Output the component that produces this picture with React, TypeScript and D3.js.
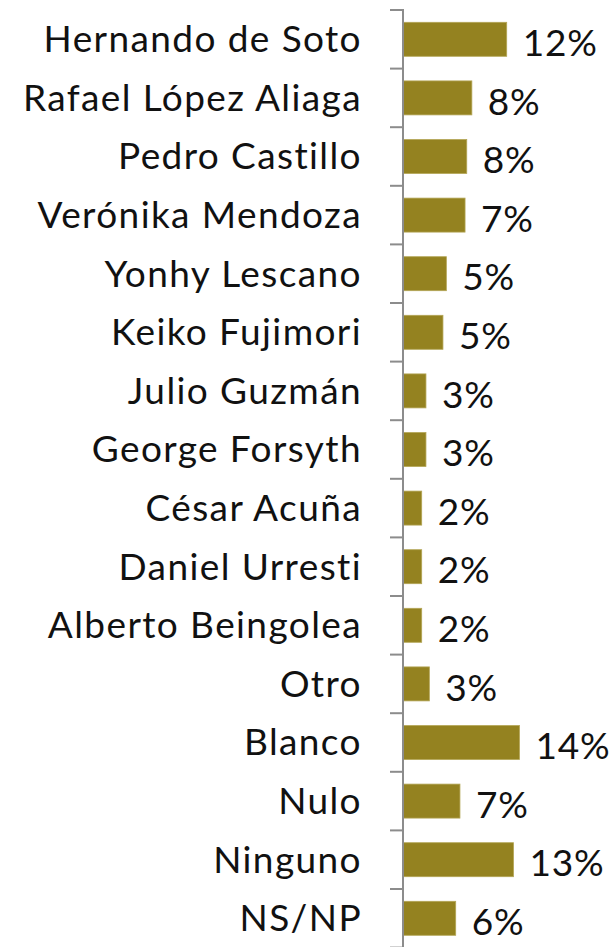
import React, { useEffect, useRef } from "react";
import * as d3 from "d3";

// Candidates and answers, top to bottom.
const categories = [
  "Hernando de Soto",
  "Rafael López Aliaga",
  "Pedro Castillo",
  "Verónika Mendoza",
  "Yonhy Lescano",
  "Keiko Fujimori",
  "Julio Guzmán",
  "George Forsyth",
  "César Acuña",
  "Daniel Urresti",
  "Alberto Beingolea",
  "Otro",
  "Blanco",
  "Nulo",
  "Ninguno",
  "NS/NP",
];

// Bar lengths (percent).
const values = [12.2, 8.1, 7.5, 7.3, 5.1, 4.7, 2.7, 2.7, 2.2, 2.2, 2.2, 3.1, 13.7, 6.7, 13.0, 6.2];

// Printed labels.
const valueLabels = ["12%", "8%", "8%", "7%", "5%", "5%", "3%", "3%", "2%", "2%", "2%", "3%", "14%", "7%", "13%", "6%"];

const App = () => {
  const ref = useRef<SVGSVGElement>(null);

  useEffect(() => {
    const width = 616;
    const height = 947;
    const axisX = 403;

    const svg = d3.select(ref.current).attr("width", width).attr("height", height);
    svg.selectAll("*").remove();

    const y = d3.scaleBand<string>()
      .domain(categories)
      .range([10, 10 + 16 * 58.6])
      .paddingInner(0.42)
      .paddingOuter(0.21);

    const x = d3.scaleLinear().domain([0, 15]).range([axisX, axisX + 8.5 * 15]);

    const data = categories.map((c, i) => ({ c, v: values[i], label: valueLabels[i] }));

    // Bars
    svg.append("g")
      .selectAll("rect")
      .data(data)
      .join("rect")
      .attr("x", x(0))
      .attr("y", d => y(d.c)!)
      .attr("width", d => x(d.v) - x(0))
      .attr("height", y.bandwidth())
      .attr("fill", "#948220")
      .attr("stroke", "#b3a555")
      .attr("stroke-width", 0.8);

    // Axis line and tick marks at band boundaries
    const gap = (y.step() - y.bandwidth()) / 2;
    const ticks = categories.map(c => y(c)! - gap).concat([y(categories[categories.length - 1])! + y.bandwidth() + gap]);
    const axis = svg.append("g").attr("stroke", "#8c8c8c").attr("stroke-width", 2);
    axis.append("line")
      .attr("x1", axisX).attr("x2", axisX)
      .attr("y1", ticks[0] - 1).attr("y2", height);
    axis.selectAll("line.tick")
      .data(ticks)
      .join("line")
      .attr("class", "tick")
      .attr("x1", axisX - 13).attr("x2", axisX)
      .attr("y1", d => d).attr("y2", d => d);

    // Category labels
    svg.append("g")
      .selectAll("text")
      .data(data)
      .join("text")
      .attr("x", 362)
      .attr("y", d => y(d.c)! + y.bandwidth() / 2)
      .attr("dy", "0.35em")
      .attr("text-anchor", "end")
      .attr("font-family", "Lato, 'Open Sans', sans-serif")
      .attr("font-size", 37)
      .attr("letter-spacing", 1.4)
      .attr("fill", "#111")
      .text(d => d.c);

    // Value labels
    svg.append("g")
      .selectAll("text")
      .data(data)
      .join("text")
      .attr("x", d => x(d.v) + 16)
      .attr("y", d => y(d.c)! + y.bandwidth() / 2)
      .attr("dy", "0.45em")
      .attr("font-family", "Lato, 'Open Sans', sans-serif")
      .attr("font-size", 37)
      .attr("letter-spacing", 0.8)
      .attr("fill", "#111")
      .text(d => d.label);
  }, []);

  return (
    <svg ref={ref} style={{ position: "absolute", left: 0, top: 0 }}></svg>
  );
};

export default App;
